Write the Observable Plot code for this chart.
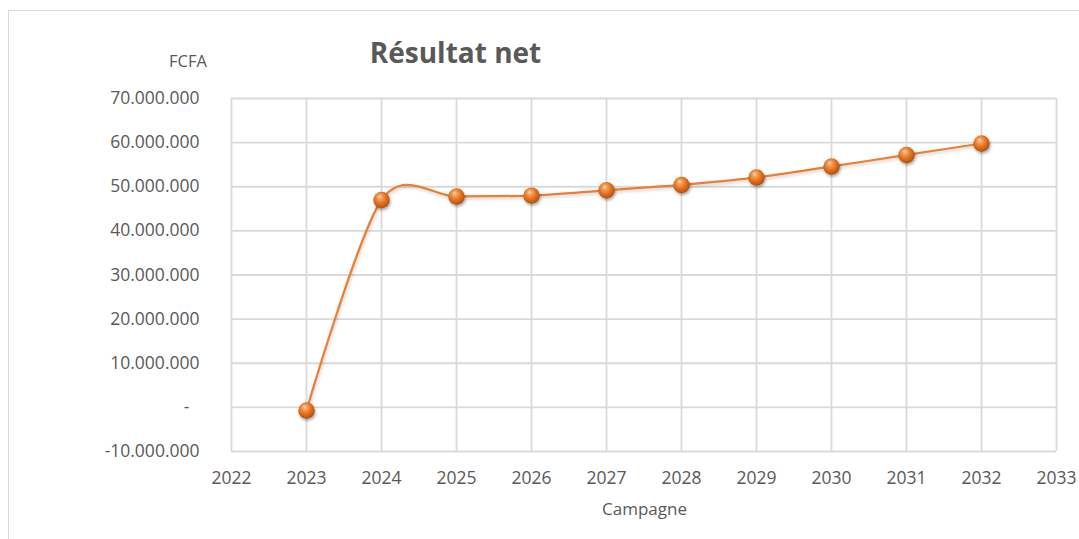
<!DOCTYPE html>
<html>
<head>
<meta charset="utf-8">
<script src="https://cdn.jsdelivr.net/npm/d3@7"></script>
<script src="https://cdn.jsdelivr.net/npm/@observablehq/plot@0.6"></script>
<style>
  html, body { margin: 0; padding: 0; background: #fff; }
  #wrap { position: relative; width: 1079px; height: 539px; overflow: hidden; font-family: "Open Sans", sans-serif; color: #595959; }
  #frame { position: absolute; left: 8px; top: 10px; width: 1200px; height: 700px; border: 1.5px solid #d9d9d9; box-sizing: border-box; }
  .lbl { position: absolute; line-height: 1; white-space: nowrap; }
  #chart { position: absolute; left: 0; top: 0; }
</style>
</head>
<body>
<div id="wrap">
  <div id="frame"></div>
  <div id="chart"></div>
  <div class="lbl" id="title" style="left:455.5px; top:38px; transform:translateX(-50%); font-size:28px; font-weight:700;">Résultat net</div>
  <div class="lbl" id="unit" style="left:169px; top:53px; font-size:16.5px;">FCFA</div>
  <div class="lbl" id="xlabel" style="left:644.5px; top:500px; transform:translateX(-50%); font-size:17px;">Campagne</div>
</div>
<script>
const years = [2023, 2024, 2025, 2026, 2027, 2028, 2029, 2030, 2031, 2032];
const resultatNet = [-700000, 47000000, 47800000, 48000000, 49200000, 50400000, 52100000, 54600000, 57200000, 59800000];
const xTicks = [2022, 2023, 2024, 2025, 2026, 2027, 2028, 2029, 2030, 2031, 2032, 2033];
const yTicks = [-10000000, 0, 10000000, 20000000, 30000000, 40000000, 50000000, 60000000, 70000000];

const data = years.map((y, i) => ({year: y, value: resultatNet[i]}));

const fmtY = d => {
  if (d === 0) return "-\u2007";
  const s = d3.format(",")(Math.abs(d)).replace(/,/g, ".");
  return (d < 0 ? "-" : "") + s;
};

const grid = {stroke: "#d9d9d9", strokeOpacity: 1, strokeWidth: 1.8};

const plot = Plot.plot({
  width: 1079,
  height: 539,
  marginLeft: 231,
  marginRight: 23,
  marginTop: 98,
  marginBottom: 88,
  style: {fontFamily: "Open Sans, sans-serif", fontSize: "17.5px", color: "#595959", background: "transparent", overflow: "visible"},
  x: {domain: [2022, 2033], ticks: xTicks, tickFormat: d => String(d), tickSize: 0, tickPadding: 20, label: null},
  y: {domain: [-10000000, 70000000], ticks: yTicks, tickFormat: fmtY, tickSize: 0, tickPadding: 32, label: null},
  marks: [
    Plot.gridX(xTicks, grid),
    Plot.gridY(yTicks, grid),
    Plot.lineY(data, {x: "year", y: "value", stroke: "#ED7D31", strokeWidth: 2.25, curve: "cardinal", tension: 0.1}),
    Plot.dot(data, {x: "year", y: "value", r: 8.2, fill: "url(#ball)", stroke: "none"})
  ]
});

const svg = d3.select(plot);
const defs = svg.insert("defs", ":first-child");
const g = defs.append("radialGradient").attr("id", "ball")
  .attr("cx", "45%").attr("cy", "42%").attr("r", "62%").attr("fx", "38%").attr("fy", "28%");
g.append("stop").attr("offset", "0%").attr("stop-color", "#fbd9bb");
g.append("stop").attr("offset", "22%").attr("stop-color", "#f5a262");
g.append("stop").attr("offset", "55%").attr("stop-color", "#e7741f");
g.append("stop").attr("offset", "85%").attr("stop-color", "#bf5a12");
g.append("stop").attr("offset", "100%").attr("stop-color", "#9a460c");

svg.selectAll('g[fill="url(#ball)"]').style("filter", "drop-shadow(1.5px 2px 1.5px rgba(0,0,0,0.35))");
svg.selectAll('g[stroke="#ED7D31"]').style("filter", "drop-shadow(1px 2px 1.5px rgba(0,0,0,0.18))");

document.getElementById("chart").appendChild(plot);
</script>
</body>
</html>
